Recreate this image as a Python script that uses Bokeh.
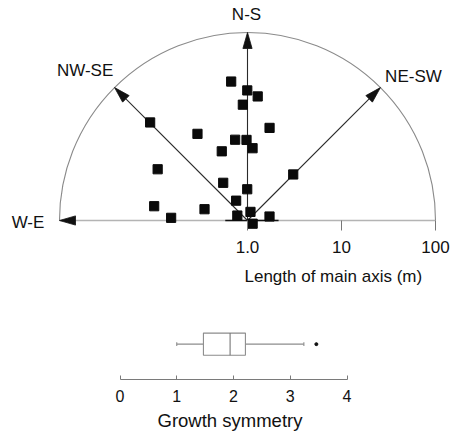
import numpy as np
from bokeh.plotting import figure
from bokeh.layouts import column
from bokeh.models import ColumnDataSource, Range1d, FixedTicker, Title
from bokeh.core.properties import value
from bokeh.embed import file_html
from bokeh.resources import INLINE

# ---------------- data ----------------
# growth direction of each colony (degrees, 0 = east, 90 = north) and length of main axis (m)
direction_deg = [96.7, 90.1, 85.3, 92.3, 134.8, 76.6, 120.0, 98.7, 90.7, 86.0, 110.4, 150.3,
                 45.2, 122.8, 90.5, 171.3, 119.8, 165.3, 178.0, 154.0, 71.0, 10.3, -32.0]
length_m = [30.8, 24.2, 21.1, 17.1, 29.5, 10.3, 11.6, 7.4, 7.2, 5.9, 6.1, 12.6,
            4.9, 3.0, 2.15, 10.1, 1.75, 2.97, 6.5, 1.32, 1.25, 1.73, 1.16]
axis_names = ["N-S", "NW-SE", "NE-SW", "W-E"]
axis_angles_deg = [90, 135, 45, 180]
length_ticks_m = [1, 10, 100]
length_tick_labels = ["1.0", "10", "100"]
ref_range_m = [0.58, 2.14]

growth_whisker_low = 1.0
growth_q1 = 1.47
growth_median = 1.94
growth_q3 = 2.21
growth_whisker_high = 3.24
growth_outliers = [3.46]
growth_ticks = [0, 1, 2, 3, 4]

FONT = "Liberation Sans"
W = 451
LB = 8               # common left border of both plots (frames are aligned in the column)

# ---------------- top: directional plot ----------------
PX = 94.0            # pixels per decade
CX, CY = 247, 220    # centre of the rose in page pixels
H1, F1H = 295, 230
p1 = figure(width=W, height=H1, output_backend="svg", toolbar_location=None,
            x_range=Range1d(-(CX - LB) / PX, (W - CX) / PX),
            y_range=Range1d(-(F1H - CY) / PX, CY / PX),
            y_axis_location=None,
            min_border_left=LB, min_border_right=0, min_border_top=0,
            min_border_bottom=H1 - F1H)
p1.outline_line_color = None
p1.grid.visible = False
p1.background_fill_color = "white"
p1.border_fill_color = "white"

R = np.log10(length_ticks_m[-1] / length_ticks_m[0])

# horizontal W-E base line and darker reference range
p1.segment(x0=[-R], y0=[0], x1=[R], y1=[0], line_color="#b4b4b4", line_width=1.6)
rr = np.log10(ref_range_m)
p1.segment(x0=[rr[0]], y0=[0], x1=[rr[1]], y1=[0], line_color="#111111", line_width=1.4)

# outer semicircle
p1.arc(x=[0], y=[0], radius=R, start_angle=0, end_angle=np.pi,
       line_color="#8a8a8a", line_width=1.1)

# arrows
ang = np.radians(axis_angles_deg)
ux, uy = np.cos(ang), np.sin(ang)
head_len, head_half = 16 / PX, 4.6 / PX
shaft = [i for i, n in enumerate(axis_names) if n != "W-E"]
p1.segment(x0=[0] * len(shaft), y0=[0] * len(shaft),
           x1=[(R - head_len) * ux[i] for i in shaft], y1=[(R - head_len) * uy[i] for i in shaft],
           line_color="#2a2a2a", line_width=1.1)
hx, hy = [], []
for a, b in zip(ux, uy):
    bx, by = (R - head_len) * a, (R - head_len) * b
    hx.append([R * a, bx - head_half * b, bx + head_half * b])
    hy.append([R * b, by + head_half * a, by - head_half * a])
p1.patches(xs=hx, ys=hy, fill_color="#111111", line_color="#111111", line_width=0.8)

# points
rl = np.log10(length_m)
th = np.radians(direction_deg)
p1.scatter(x=rl * np.cos(th), y=rl * np.sin(th), marker="square", size=9.2,
           fill_color="#0a0a0a", line_color="#0a0a0a")

# direction labels
lab_src = ColumnDataSource(dict(x=R * ux, y=R * uy, t=axis_names,
                                xo=[-1, -29.5, 33, -31.5], yo=[-18.5, -17, -11.5, 1.5]))
p1.text(x="x", y="y", text="t", x_offset="xo", y_offset="yo", source=lab_src,
        text_font=value(FONT), text_font_size="17px", text_color="#111111",
        text_align="center", text_baseline="middle")

ax = p1.xaxis[0]
ax.ticker = FixedTicker(ticks=[float(np.log10(t)) for t in length_ticks_m])
ax.major_label_overrides = {int(round(np.log10(t))): s for t, s in zip(length_ticks_m, length_tick_labels)}
ax.axis_line_color = None
ax.major_tick_in = 10
ax.major_tick_out = 0
ax.major_tick_line_color = "#777777"
ax.minor_tick_line_color = None
ax.major_label_standoff = 10
ax.major_label_text_font = FONT
ax.major_label_text_font_size = "17px"
ax.major_label_text_color = "#111111"

# axis title of the length scale, set below the axis and to the right
p1.add_layout(Title(text="Length of main axis (m)", align="left", offset=244 - LB, standoff=19,
                    text_font=FONT, text_font_size="17px", text_font_style="normal",
                    text_color="#111111"), "below")

# ---------------- bottom: box plot ----------------
GPX = 56.75
G0 = 119.5
H2 = 439 - H1
p2 = figure(width=W, height=H2, output_backend="svg", toolbar_location=None,
            x_range=Range1d(-(G0 - LB) / GPX, (W - G0) / GPX),
            y_range=Range1d(-1.6, 2.2),
            y_axis_location=None,
            min_border_left=LB, min_border_right=0, min_border_top=0, min_border_bottom=60)
p2.outline_line_color = None
p2.grid.visible = False
p2.background_fill_color = "white"
p2.border_fill_color = "white"

BOXC = "#8c8c8c"
p2.segment(x0=[growth_whisker_low, growth_q3], y0=[0, 0],
           x1=[growth_q1, growth_whisker_high], y1=[0, 0], line_color=BOXC, line_width=1.1)
p2.segment(x0=[growth_whisker_low, growth_whisker_high], y0=[-0.08, -0.08],
           x1=[growth_whisker_low, growth_whisker_high], y1=[0.08, 0.08], line_color=BOXC, line_width=1.1)
p2.quad(left=[growth_q1], right=[growth_q3], bottom=[-0.5], top=[0.5],
        fill_color="white", line_color=BOXC, line_width=1.1)
p2.segment(x0=[growth_median], y0=[-0.5], x1=[growth_median], y1=[0.5], line_color="#777777", line_width=1.1)
p2.scatter(x=growth_outliers, y=[0] * len(growth_outliers), marker="circle", size=3,
           fill_color="#111111", line_color="#111111")

bx = p2.xaxis[0]
bx.ticker = FixedTicker(ticks=growth_ticks)
bx.bounds = (growth_ticks[0], growth_ticks[-1])
bx.axis_line_color = "#7a7a7a"
bx.axis_line_width = 1.1
bx.major_tick_in = 4
bx.major_tick_out = 0
bx.major_tick_line_color = "#7a7a7a"
bx.minor_tick_line_color = None
bx.major_label_standoff = 10
bx.major_label_text_font = FONT
bx.major_label_text_font_size = "16px"
bx.major_label_text_color = "#111111"
bx.axis_label = "Growth symmetry"
bx.axis_label_text_font = FONT
bx.axis_label_text_font_size = "18.5px"
bx.axis_label_text_font_style = "normal"
bx.axis_label_text_color = "#111111"
bx.axis_label_standoff = 5

layout = column(p1, p2, spacing=0)
open("out.html", "w").write(file_html(layout, INLINE))
